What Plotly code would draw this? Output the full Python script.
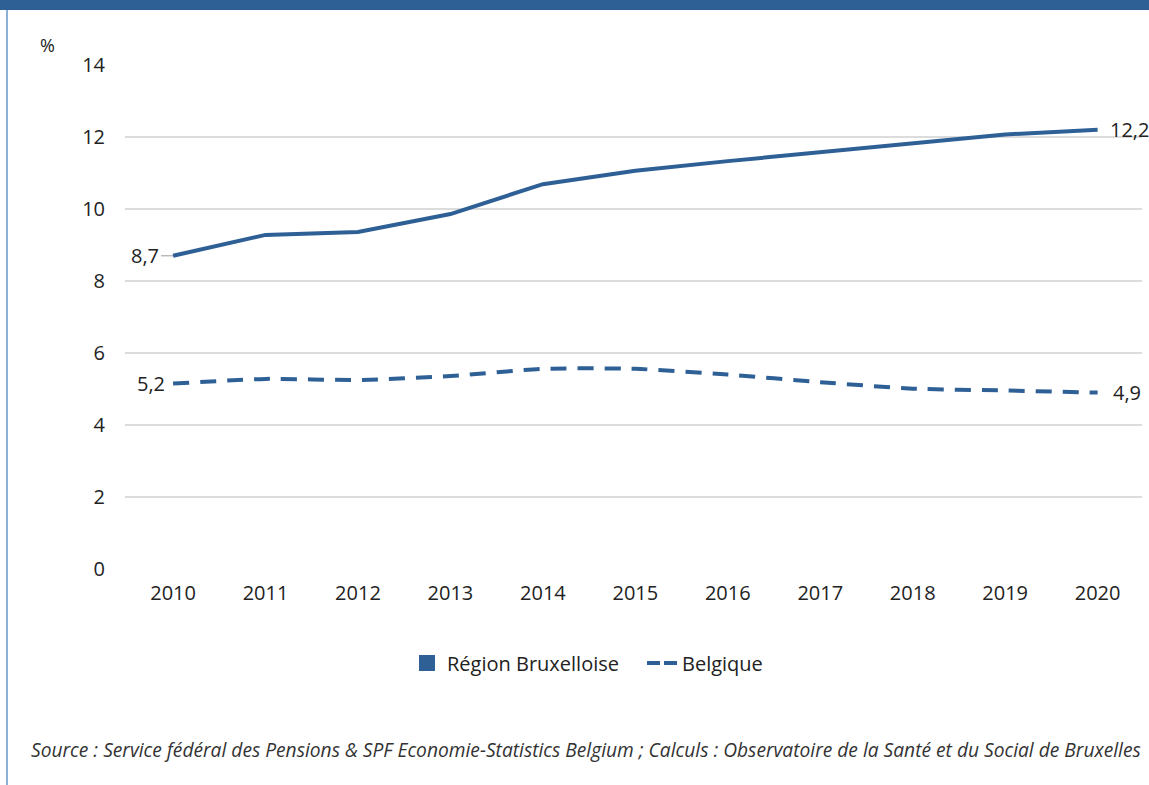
import plotly.graph_objects as go

years = [2010, 2011, 2012, 2013, 2014, 2015, 2016, 2017, 2018, 2019, 2020]
bruxelles = [8.7, 9.28, 9.36, 9.86, 10.69, 11.06, 11.33, 11.58, 11.81, 12.07, 12.2]
belgique = [5.15, 5.28, 5.25, 5.36, 5.56, 5.56, 5.40, 5.19, 5.01, 4.96, 4.9]
series_names = ["Région Bruxelloise", "Belgique"]
y_ticks = [0, 2, 4, 6, 8, 10, 12, 14]
source_text = ("Source : Service fédéral des Pensions & SPF Economie-Statistics Belgium ; "
               "Calculs : Observatoire de la Santé et du Social de Bruxelles")

BLUE = "#2E6096"
TEXT = "#222222"
FONT = "Open Sans"
FS = 20

W, H = 1149, 785
L, R, T, B = 125, 7, 65, 216
pw, ph = W - L - R, H - T - B


def px_x(p):
    return (p - L) / pw


def px_y(p):
    return (H - B - p) / ph


def fmt(v):
    return f"{v:.1f}".replace(".", ",")


fig = go.Figure()

fig.add_trace(go.Scatter(
    x=years, y=bruxelles, mode="lines", name=series_names[0],
    line=dict(color=BLUE, width=4), showlegend=False, legendgroup="bxl",
))
fig.add_trace(go.Scatter(
    x=years, y=belgique, mode="lines", name=series_names[1],
    line=dict(color=BLUE, width=4, dash="16px,11px", shape="spline", smoothing=0.6),
    showlegend=False, legendgroup="bel",
))
# legend keys: filled square for Brussels, short dashes for Belgium
fig.add_trace(go.Scatter(
    x=[None], y=[None], mode="markers", name=series_names[0],
    marker=dict(color=BLUE, symbol="square", size=16), legendgroup="bxl",
))
fig.add_trace(go.Scatter(
    x=[None], y=[None], mode="lines", name=series_names[1],
    line=dict(color=BLUE, width=4, dash="13px,4px"), legendgroup="bel",
))

annotations = []
# first and last values of each series
for series, leader, end_shift in ((bruxelles, True, 10), (belgique, False, 13)):
    annotations.append(dict(
        x=years[0], y=series[0], text=fmt(series[0]), xref="x", yref="y",
        showarrow=leader, arrowhead=0, arrowwidth=1, arrowcolor="#9a9a9a",
        ax=-12 if leader else 0, ay=0, standoff=0,
        xanchor="right", xshift=0 if leader else -6,
        font=dict(size=FS, color=TEXT, family=FONT),
    ))
    annotations.append(dict(
        x=years[-1], y=series[-1], text=fmt(series[-1]), xref="x", yref="y",
        showarrow=False, xanchor="left", xshift=end_shift,
        font=dict(size=FS, color=TEXT, family=FONT),
    ))

annotations.append(dict(
    x=px_x(47), y=px_y(45), xref="paper", yref="paper", text="%",
    showarrow=False, xanchor="center", yanchor="middle",
    font=dict(size=18, color=TEXT, family=FONT),
))
annotations.append(dict(
    x=px_x(1143), y=px_y(749), xref="paper", yref="paper", text=source_text,
    showarrow=False, xanchor="right", yanchor="middle",
    font=dict(size=19.2, color="#333333", family=FONT, style="italic"),
))

shapes = [
    dict(type="rect", xref="paper", yref="paper",
         x0=px_x(-5), x1=px_x(W + 5), y0=px_y(10), y1=px_y(-5),
         fillcolor=BLUE, line=dict(width=0), layer="above"),
    dict(type="line", xref="paper", yref="paper",
         x0=px_x(7), x1=px_x(7), y0=px_y(10), y1=px_y(H + 5),
         line=dict(color="#8DB0D8", width=2)),
]

fig.update_layout(
    width=W, height=H,
    margin=dict(l=L, r=R, t=T, b=B),
    paper_bgcolor="white", plot_bgcolor="white",
    font=dict(family=FONT, color=TEXT, size=FS),
    separators=", ",
    showlegend=True,
    legend=dict(
        orientation="h", x=px_x(642), xanchor="center", y=px_y(663), yanchor="middle",
        font=dict(size=FS, color=TEXT, family=FONT), itemwidth=30,
        entrywidth=190, entrywidthmode="pixels",
        bgcolor="rgba(0,0,0,0)",
    ),
    xaxis=dict(
        range=[2009.48, 2020.48], tickmode="array", tickvals=years,
        ticktext=[str(y) for y in years], showgrid=False, zeroline=False,
        showline=False, ticks="outside", ticklen=6, tickcolor="rgba(0,0,0,0)",
        tickfont=dict(size=FS, color=TEXT, family=FONT),
    ),
    yaxis=dict(
        range=[0, 14], tickmode="array", tickvals=y_ticks,
        showgrid=True, gridcolor="#dcdcdc", gridwidth=1.5, zeroline=False,
        showline=False, ticks="outside", ticklen=15, tickcolor="rgba(0,0,0,0)",
        tickfont=dict(size=FS, color=TEXT, family=FONT),
    ),
    annotations=annotations,
    shapes=shapes,
)

fig.write_html("out.html")
